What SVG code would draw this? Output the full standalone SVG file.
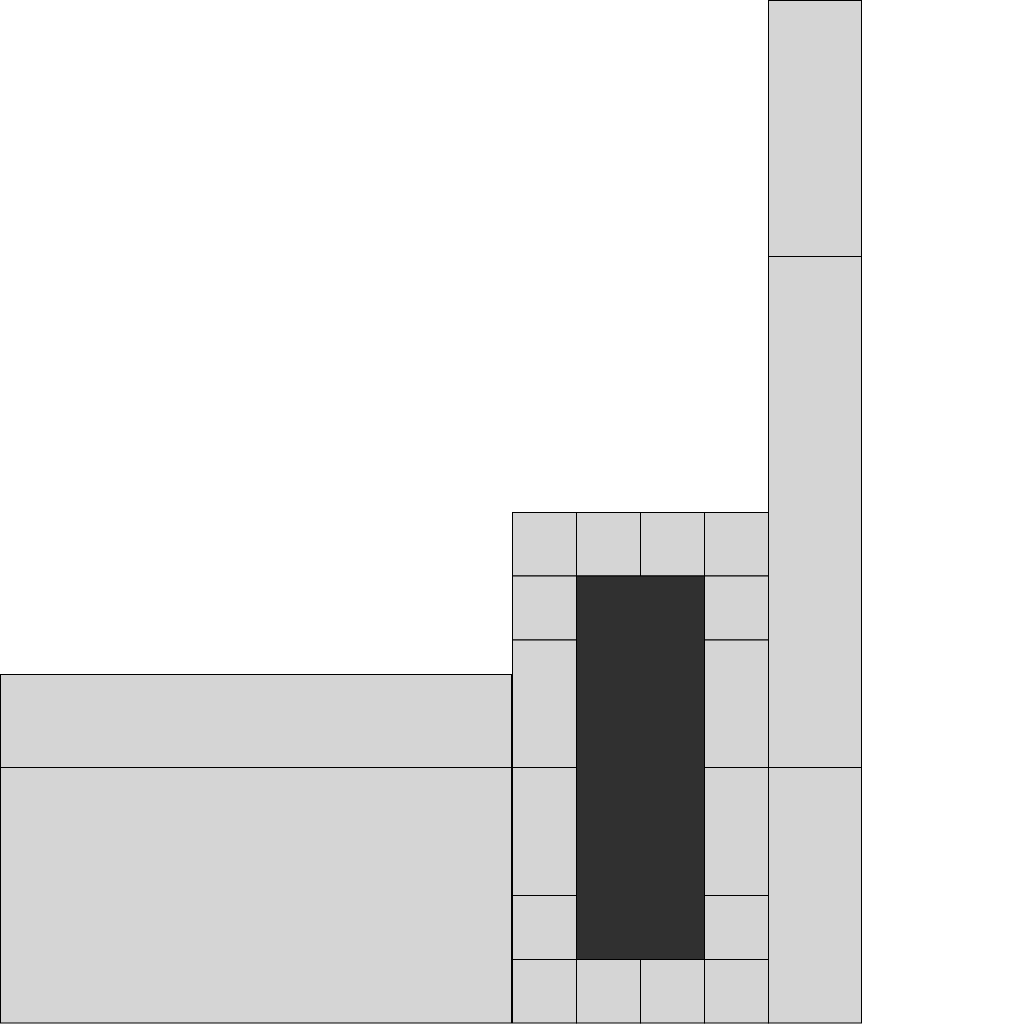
<svg xmlns="http://www.w3.org/2000/svg" width="1024" height="1024" viewBox="0 0 1024 1024">
<style>
rect.c{fill:#d5d5d5;stroke:#000;stroke-width:1}
rect.d{fill:#303030;stroke:#000;stroke-width:1}
</style>
<rect width="1024" height="1024" fill="#fff"/>
<g id="left">
<rect id="L1" class="c" x="0.5" y="674.5" width="511" height="93"/>
<rect id="L2" class="c" x="0.5" y="767.5" width="511" height="255.5"/>
</g>
<g id="right">
<rect id="R1" class="c" x="768.5" y="0.5" width="93" height="256"/>
<rect id="R2" class="c" x="768.5" y="256.5" width="93" height="511"/>
<rect id="R3" class="c" x="768.5" y="767.5" width="93" height="255.5"/>
</g>
<g id="middle">
<rect id="T1" class="c" x="512.5" y="512.5" width="64" height="63.5"/>
<rect id="T2" class="c" x="576.5" y="512.5" width="64" height="63.5"/>
<rect id="T3" class="c" x="640.5" y="512.5" width="64" height="63.5"/>
<rect id="T4" class="c" x="704.5" y="512.5" width="64" height="63.5"/>
<rect id="ML1" class="c" x="512.5" y="576" width="64" height="64"/>
<rect id="MR1" class="c" x="704.5" y="576" width="64" height="64"/>
<rect id="ML2" class="c" x="512.5" y="640" width="64" height="127.5"/>
<rect id="MR2" class="c" x="704.5" y="640" width="64" height="127.5"/>
<rect id="ML3" class="c" x="512.5" y="767.5" width="64" height="128"/>
<rect id="MR3" class="c" x="704.5" y="767.5" width="64" height="128"/>
<rect id="ML4" class="c" x="512.5" y="895.5" width="64" height="64"/>
<rect id="MR4" class="c" x="704.5" y="895.5" width="64" height="64"/>
<rect id="B1" class="c" x="512.5" y="959.5" width="64" height="63.5"/>
<rect id="B2" class="c" x="576.5" y="959.5" width="64" height="63.5"/>
<rect id="B3" class="c" x="640.5" y="959.5" width="64" height="63.5"/>
<rect id="B4" class="c" x="704.5" y="959.5" width="64" height="63.5"/>
<rect id="core" class="d" x="576.5" y="576" width="128" height="383.5"/>
</g>
<g id="connectors"/>
</svg>
